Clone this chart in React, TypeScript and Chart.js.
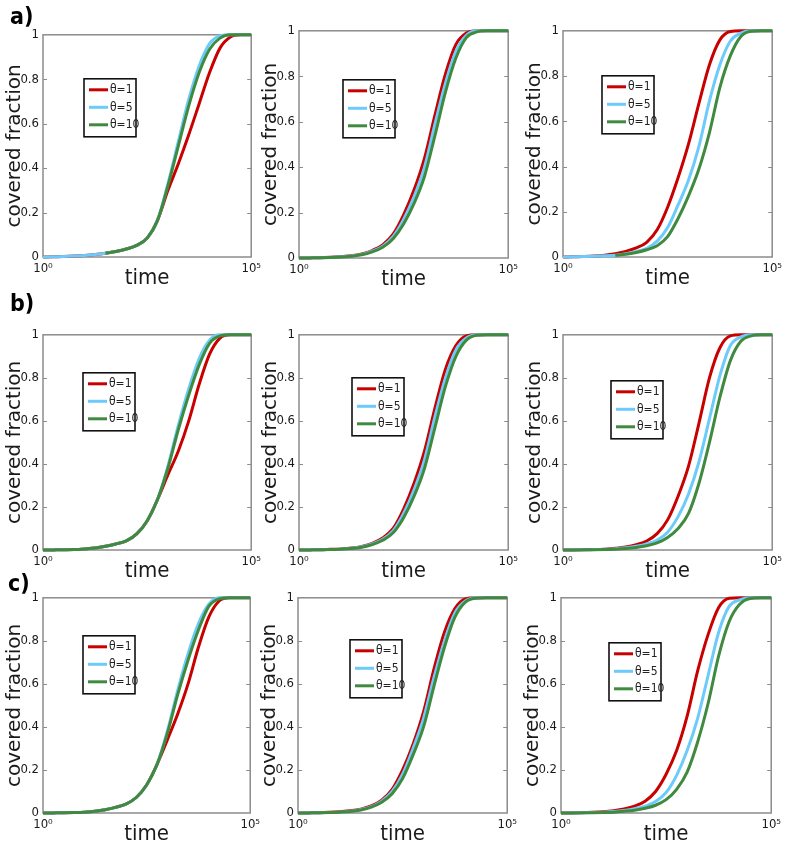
import React, { useEffect, useRef } from "react";
import { Chart, registerables } from "chart.js";
Chart.register(...registerables);

// ---------- data ----------
const TIMES = [1, 1.778, 3.162, 5.623, 10, 17.78, 31.62, 56.23, 100, 177.8, 316.2, 562.3, 1000, 1778, 3162, 5623, 10000, 17783, 31623, 56234, 100000];
const SERIES_LABELS = ["θ=1", "θ=5", "θ=10"];
const SERIES_COLORS = ["#c80000", "#6ccbfb", "#3f8a3f"];
const X_TICK_VALUES = [1, 100000];
const X_TICK_LABELS = ["10⁰", "10⁵"];
const Y_TICKS = [0, 0.2, 0.4, 0.6, 0.8, 1];
const Y_TICK_LABELS = ["0", "0.2", "0.4", "0.6", "0.8", "1"];
const X_TITLE = "time";
const Y_TITLE = "covered fraction";
const ROW_LETTERS = ["a)", "b)", "c)"];

const A1_T1 = [0, .001, .002, .004, .007, .011, .017, .025, .036, .052, .085, .165, .3, .42, .55, .69, .83, .94, .99, 1, 1];
const A1_T5 = [0, .001, .002, .004, .007, .011, .017, .025, .036, .052, .085, .165, .33, .52, .71, .86, .96, .995, 1, 1, 1];
const A1_T10 = [null, null, null, null, null, null, .017, .025, .036, .052, .085, .165, .32, .5, .68, .83, .935, .985, 1, 1, 1];

const A2_T1 = [0, .0005, .001, .003, .006, .01, .018, .033, .058, .105, .19, .3, .44, .63, .81, .94, .99, 1, 1, 1, 1];
const A2_T5 = [0, .0005, .001, .002, .005, .009, .016, .03, .052, .095, .17, .27, .4, .59, .77, .91, .98, 1, 1, 1, 1];
const A2_T10 = [0, .0005, .001, .002, .004, .008, .014, .027, .047, .085, .15, .24, .36, .54, .73, .88, .97, .995, 1, 1, 1];

const A3_T1 = [0, .001, .002, .004, .008, .015, .025, .04, .065, .12, .22, .35, .5, .68, .85, .96, .997, 1, 1, 1, 1];
const A3_T5 = [0, .001, .002, .003, .005, .008, .014, .024, .038, .07, .13, .23, .34, .49, .69, .85, .955, .99, 1, 1, 1];
const A3_T10 = [null, null, null, null, null, .008, .012, .02, .032, .05, .09, .17, .27, .39, .55, .75, .89, .975, .998, 1, 1];

const B1_T1 = [0, .0005, .001, .002, .005, .009, .017, .028, .042, .075, .135, .235, .35, .46, .6, .77, .91, .985, 1, 1, 1];
const B1_T5 = [0, .0005, .001, .002, .005, .009, .017, .028, .042, .075, .135, .235, .39, .58, .75, .89, .975, 1, 1, 1, 1];
const B1_T10 = [0, .0005, .001, .002, .005, .009, .017, .028, .042, .075, .135, .235, .38, .56, .72, .86, .96, .995, 1, 1, 1];

const B2_T1 = [0, .0005, .001, .003, .005, .009, .017, .031, .056, .1, .19, .31, .46, .66, .84, .95, .995, 1, 1, 1, 1];
const B2_T5 = [0, .0005, .001, .002, .004, .008, .015, .028, .05, .09, .17, .28, .42, .62, .8, .93, .985, 1, 1, 1, 1];
const B2_T10 = [0, .0005, .001, .002, .004, .007, .013, .025, .045, .08, .15, .25, .38, .57, .76, .9, .975, .998, 1, 1, 1];

const B3_T1 = [0, .0005, .001, .002, .004, .008, .014, .025, .042, .076, .14, .25, .39, .59, .8, .94, .995, 1, 1, 1, 1];
const B3_T5 = [0, .0005, .001, .002, .003, .006, .01, .017, .028, .046, .083, .155, .26, .41, .61, .81, .95, .99, 1, 1, 1];
const B3_T10 = [0, .0003, .0007, .001, .002, .004, .007, .012, .02, .033, .058, .1, .17, .31, .5, .71, .88, .97, .995, 1, 1];

const C1_T1 = [0, .0005, .001, .002, .004, .008, .015, .026, .041, .072, .13, .225, .34, .46, .6, .77, .91, .985, 1, 1, 1];
const C1_T5 = [0, .0005, .001, .002, .004, .008, .015, .026, .041, .072, .13, .225, .38, .57, .74, .88, .97, 1, 1, 1, 1];
const C1_T10 = [0, .0005, .001, .002, .004, .008, .015, .026, .041, .072, .13, .225, .37, .55, .71, .85, .96, .995, 1, 1, 1];

const C2_T1 = [0, .0005, .001, .003, .006, .01, .018, .033, .06, .11, .2, .32, .47, .67, .84, .95, .995, 1, 1, 1, 1];
const C2_T5 = [0, .0005, .001, .002, .004, .008, .016, .03, .055, .1, .18, .3, .44, .63, .8, .93, .985, 1, 1, 1, 1];
const C2_T10 = [0, .0005, .001, .002, .004, .007, .014, .027, .05, .09, .16, .27, .4, .59, .77, .91, .98, .998, 1, 1, 1];

const C3_T1 = [0, .0005, .001, .003, .006, .011, .019, .032, .055, .1, .18, .29, .45, .66, .83, .955, .998, 1, 1, 1, 1];
const C3_T5 = [0, .0005, .001, .002, .004, .007, .012, .02, .032, .053, .095, .175, .29, .44, .64, .84, .96, .99, 1, 1, 1];
const C3_T10 = [0, .0003, .0007, .001, .002, .004, .008, .013, .022, .036, .062, .11, .19, .33, .51, .73, .89, .97, .997, 1, 1];

// ---------- layout (page pixels of each plot area, legend offsets) ----------
const PANELS = [
  { series: [A1_T1, A1_T5, A1_T10], L: 43, T: 33, R: 255, B: 257, lx: 41, ly: 44 },
  { series: [A2_T1, A2_T5, A2_T10], L: 299, T: 29, R: 512, B: 258, lx: 44, ly: 49 },
  { series: [A3_T1, A3_T5, A3_T10], L: 563, T: 29, R: 776, B: 257, lx: 39, ly: 45 },
  { series: [B1_T1, B1_T5, B1_T10], L: 43, T: 333, R: 255, B: 550, lx: 40, ly: 38 },
  { series: [B2_T1, B2_T5, B2_T10], L: 299, T: 333, R: 512, B: 550, lx: 53, ly: 43 },
  { series: [B3_T1, B3_T5, B3_T10], L: 563, T: 333, R: 776, B: 550, lx: 48, ly: 46 },
  { series: [C1_T1, C1_T5, C1_T10], L: 43, T: 596, R: 254, B: 813, lx: 40, ly: 38 },
  { series: [C2_T1, C2_T5, C2_T10], L: 298, T: 596, R: 511, B: 813, lx: 52, ly: 42 },
  { series: [C3_T1, C3_T5, C3_T10], L: 561, T: 596, R: 775, B: 813, lx: 48, ly: 45 },
];
const LETTER_POS = [
  { left: 10, top: 5 },
  { left: 10, top: 292 },
  { left: 8, top: 572 },
];

const AX_L = 50;
const AX_B = 36;
const PAD_T = 10;
const PAD_R = 10;
const NARROW = '"Liberation Sans Narrow", "DejaVu Sans Condensed", sans-serif';

const framePlugin = {
  id: "frame",
  beforeDatasetsDraw(chart: any) {
    const { ctx, chartArea: a } = chart;
    const ys = chart.scales.y;
    ctx.save();
    ctx.strokeStyle = "#8c8c8c";
    ctx.lineWidth = 1.5;
    ctx.strokeRect(a.left, a.top, a.right - a.left, a.bottom - a.top);
    ctx.lineWidth = 1;
    ctx.beginPath();
    Y_TICKS.slice(1, -1).forEach((v) => {
      const py = Math.round(ys.getPixelForValue(v)) + 0.5;
      ctx.moveTo(a.left, py);
      ctx.lineTo(a.left + 4, py);
      ctx.moveTo(a.right, py);
      ctx.lineTo(a.right - 4, py);
    });
    ctx.stroke();
    ctx.restore();
  },
};

const legendPlugin = {
  id: "innerLegend",
  afterDatasetsDraw(chart: any, _args: any, opts: any) {
    const { ctx, chartArea: a } = chart;
    const x = a.left + opts.dx;
    const y = a.top + opts.dy;
    const w = 52;
    const h = 58;
    ctx.save();
    ctx.fillStyle = "#ffffff";
    ctx.fillRect(x, y, w, h);
    ctx.strokeStyle = "#111";
    ctx.lineWidth = 1.6;
    ctx.strokeRect(x, y, w, h);
    chart.data.datasets.forEach((ds: any, i: number) => {
      const ry = y + 11 + i * 17.5;
      ctx.strokeStyle = ds.borderColor;
      ctx.lineWidth = 3;
      ctx.beginPath();
      ctx.moveTo(x + 5, ry);
      ctx.lineTo(x + 24, ry);
      ctx.stroke();
      ctx.fillStyle = "#222";
      ctx.font = `12px ${NARROW}`;
      ctx.textBaseline = "middle";
      ctx.textAlign = "left";
      ctx.fillText(ds.label, x + 26, ry + 0.5);
    });
    ctx.restore();
  },
};

function Panel({ p }: { p: any }) {
  const ref = useRef<HTMLCanvasElement>(null);
  const width = p.R - p.L + AX_L + PAD_R;
  const height = p.B - p.T + PAD_T + AX_B;
  useEffect(() => {
    if (!ref.current) return;
    const chart = new Chart(ref.current, {
      type: "line",
      data: {
        datasets: p.series.map((arr: any[], i: number) => ({
          label: SERIES_LABELS[i],
          data: TIMES.map((t, k) => ({ x: t, y: arr[k] })),
          borderColor: SERIES_COLORS[i],
          backgroundColor: SERIES_COLORS[i],
          borderWidth: 3,
          pointRadius: 0,
          cubicInterpolationMode: "monotone",
          fill: false,
          clip: 3,
          order: 2 - i,
        })),
      },
      options: {
        responsive: false,
        animation: false,
        events: [],
        layout: { padding: { top: PAD_T, right: PAD_R, left: 0, bottom: 0 } },
        plugins: {
          legend: { display: false },
          tooltip: { enabled: false },
          innerLegend: { dx: p.lx, dy: p.ly },
        } as any,
        scales: {
          x: {
            type: "logarithmic",
            min: 1,
            max: 100000,
            grid: { display: false, drawTicks: false },
            border: { display: false },
            afterBuildTicks: (s: any) => {
              s.ticks = X_TICK_VALUES.map((v) => ({ value: v }));
            },
            afterFit: (s: any) => {
              s.height = AX_B;
            },
            ticks: {
              autoSkip: false,
              maxRotation: 0,
              padding: 4,
              color: "#1a1a1a",
              font: { family: NARROW, size: 13 },
              callback: (v: any) => {
                const idx = X_TICK_VALUES.indexOf(Number(v));
                return idx >= 0 ? X_TICK_LABELS[idx] : "";
              },
            },
            title: {
              display: true,
              text: X_TITLE,
              color: "#1a1a1a",
              font: { family: NARROW, size: 22 },
              padding: { top: 0, bottom: 2 },
            },
          },
          y: {
            type: "linear",
            min: 0,
            max: 1,
            grid: { display: false, drawTicks: false },
            border: { display: false },
            afterBuildTicks: (s: any) => {
              s.ticks = Y_TICKS.map((v) => ({ value: v }));
            },
            afterFit: (s: any) => {
              s.width = AX_L;
            },
            ticks: {
              padding: 4,
              color: "#1a1a1a",
              font: { family: NARROW, size: 13 },
              callback: (v: any) => {
                const idx = Y_TICKS.findIndex((t) => Math.abs(t - Number(v)) < 1e-9);
                return idx >= 0 ? Y_TICK_LABELS[idx] : "";
              },
            },
            title: {
              display: true,
              text: Y_TITLE,
              color: "#1a1a1a",
              font: { family: '"DejaVu Sans", sans-serif', size: 20 },
              padding: { top: 10, bottom: 0 },
            },
          },
        },
      } as any,
      plugins: [framePlugin, legendPlugin],
    });
    return () => chart.destroy();
  }, []);
  return (
    <canvas
      ref={ref}
      width={width}
      height={height}
      style={{ position: "absolute", left: p.L - AX_L, top: p.T - PAD_T, width, height }}
    />
  );
}

export default function App() {
  return (
    <div
      style={{
        position: "absolute",
        left: 0,
        top: 0,
        width: 787,
        height: 844,
        overflow: "hidden",
        background: "#fff",
      }}
    >
      {PANELS.map((p, i) => (
        <Panel key={i} p={p} />
      ))}
      {ROW_LETTERS.map((t, i) => (
        <div
          key={t}
          style={{
            position: "absolute",
            left: LETTER_POS[i].left,
            top: LETTER_POS[i].top,
            font: 'bold 23px "DejaVu Sans Condensed", "DejaVu Sans", sans-serif',
            lineHeight: "23px",
            color: "#000",
          }}
        >
          {t}
        </div>
      ))}
    </div>
  );
}
